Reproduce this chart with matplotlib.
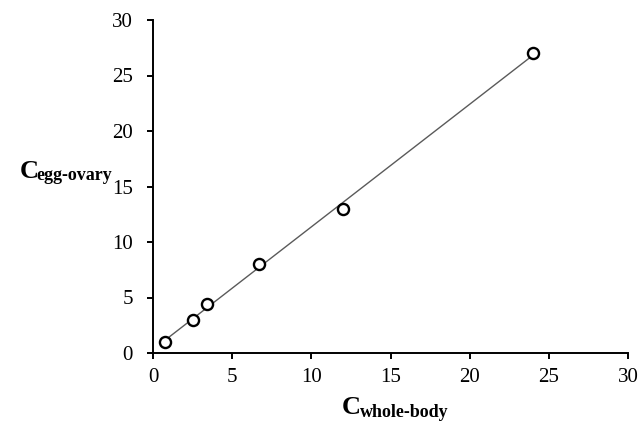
import numpy as np
import matplotlib
matplotlib.use("Agg")
import matplotlib.pyplot as plt

# Data
x_whole_body = [0.75, 2.5, 3.4, 6.7, 12.0, 24.0]
y_egg_ovary = [1.0, 3.0, 4.4, 8.0, 13.0, 27.0]
x_ticks = [0, 5, 10, 15, 20, 25, 30]
y_ticks = [0, 5, 10, 15, 20, 25, 30]

plt.rcParams['font.family'] = ['Liberation Serif', 'DejaVu Serif']

W, H = 640, 421
fig = plt.figure(figsize=(6.4, 4.21), dpi=100)
ax = fig.add_axes([153/W, 1-353/H, (628-153)/W, (353-20)/H])

# linear trendline
coef = np.polyfit(x_whole_body, y_egg_ovary, 1)
xl = np.array([min(x_whole_body), max(x_whole_body)])
ax.plot(xl, np.polyval(coef, xl), color='#5a5a5a', lw=1.0, zorder=2)
ax.plot(x_whole_body, y_egg_ovary, 'o', ms=8, mfc='white', mec='black', mew=1.7, zorder=3)

ax.set_xlim(0, 30)
ax.set_ylim(0, 30)
ax.set_xticks(x_ticks)
ax.set_yticks(y_ticks)
for s in ['top', 'right']:
    ax.spines[s].set_visible(False)
for s in ['left', 'bottom']:
    ax.spines[s].set_linewidth(1.4)
ax.tick_params(direction='out', length=4.5, width=1.4, labelsize=15, colors='black')
ax.tick_params(axis='y', pad=10)
ax.tick_params(axis='x', pad=6)

def sub_label(x_px, base_px, main, sub, sub_x_px, drop_px):
    fig.text(x_px/W, 1-base_px/H, main, fontsize=19, fontweight='bold', ha='left', va='baseline')
    fig.text(sub_x_px/W, 1-(base_px+drop_px)/H, sub, fontsize=13, fontweight='bold', ha='left', va='baseline')

sub_label(20, 178, 'C', 'egg-ovary', 36.5, 2)
sub_label(342, 414, 'C', 'whole-body', 359.5, 3)

fig.savefig('out.png', dpi=100)
